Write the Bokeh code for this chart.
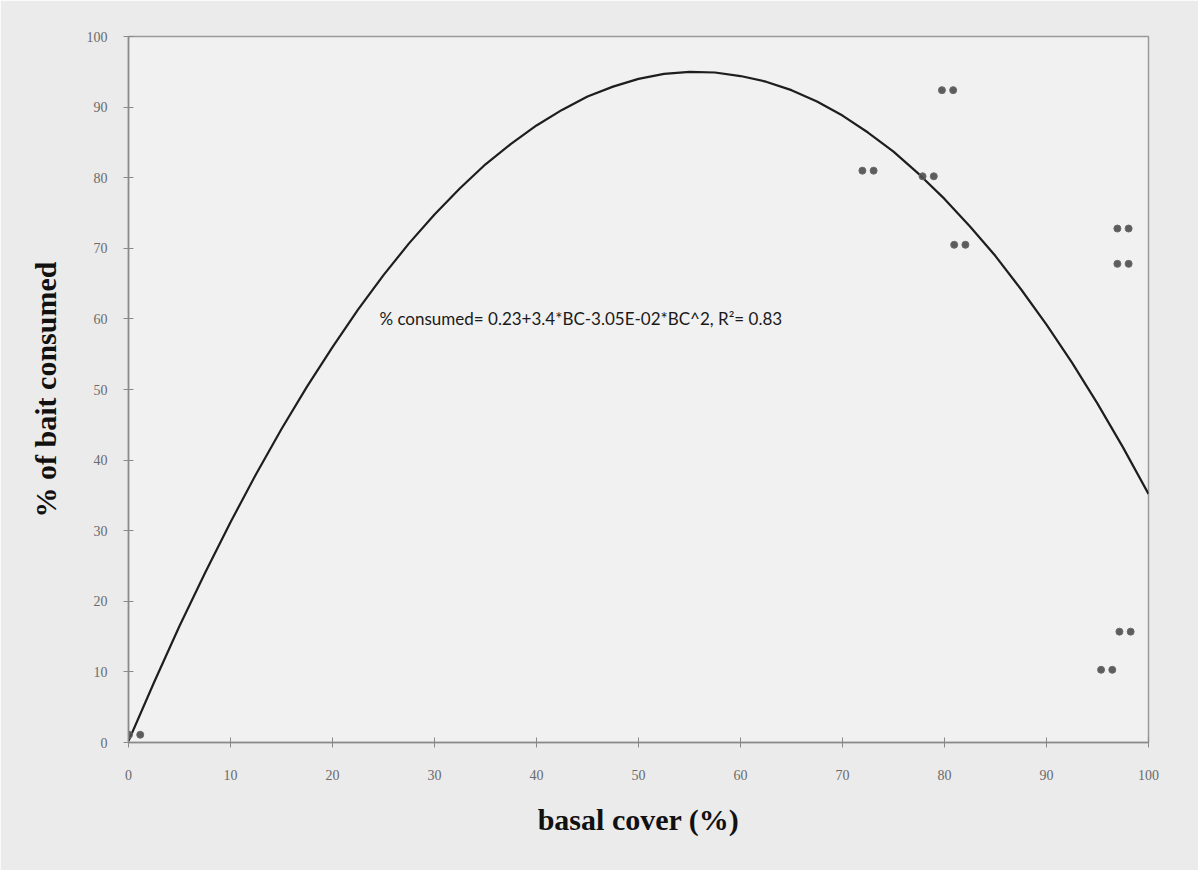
from bokeh.plotting import figure
from bokeh.models import Range1d, Label, FixedTicker, ColumnDataSource
from bokeh.transform import dodge
from bokeh.embed import file_html
from bokeh.resources import INLINE

# observed points (basal cover %, % of bait consumed)
basal_cover = [0.6, 72.5, 78.4, 80.3, 81.5, 97.5, 97.5, 97.7, 95.9]
bait_consumed = [1.1, 81.0, 80.2, 92.4, 70.5, 72.8, 67.8, 15.7, 10.3]

# fitted curve
fit_x = [0, 2.5, 5, 7.5, 10, 12.5, 15, 17.5, 20, 22.5, 25, 27.5, 30, 32.5, 35, 37.5, 40,
         42.5, 45, 47.5, 50, 52.5, 55, 57.5, 60, 62.5, 65, 67.5, 70, 72.5, 75, 77.5, 80,
         82.5, 85, 87.5, 90, 92.5, 95, 97.5, 100]
fit_y = [0.2, 8.5, 16.5, 24.0, 31.2, 38.0, 44.4, 50.4, 56.0, 61.3, 66.2, 70.7, 74.8, 78.5,
         81.9, 84.8, 87.4, 89.6, 91.5, 92.9, 94.0, 94.7, 95.0, 94.9, 94.4, 93.6, 92.4, 90.8,
         88.8, 86.4, 83.7, 80.5, 77.0, 73.1, 68.9, 64.2, 59.2, 53.8, 48.0, 41.8, 35.2]

x_ticks = [0, 10, 20, 30, 40, 50, 60, 70, 80, 90, 100]
y_ticks = [0, 10, 20, 30, 40, 50, 60, 70, 80, 90, 100]

equation_text = "% consumed= 0.23+3.4*BC-3.05E-02*BC^2, R\u00b2= 0.83"
x_title = "basal cover (%)"
y_title = "% of bait consumed"

p = figure(width=1198, height=870, x_range=Range1d(0, 100), y_range=Range1d(0, 100),
           output_backend="svg", toolbar_location=None,
           min_border_left=128, min_border_right=50, min_border_top=36, min_border_bottom=128)
p.background_fill_color = "#f1f1f1"
p.border_fill_color = "#ebebeb"
p.outline_line_color = "#9a9a9a"
p.outline_line_width = 1.5
p.grid.visible = False

for ax in (p.xaxis[0], p.yaxis[0]):
    ax.axis_line_color = "#8a8a8a"
    ax.axis_line_width = 1.5
    ax.major_tick_line_color = "#8a8a8a"
    ax.major_tick_in = 5
    ax.major_tick_out = 5
    ax.minor_tick_line_color = None
    ax.major_label_text_font = "Liberation Serif"
    ax.major_label_text_font_size = "14px"
    ax.major_label_text_color = "#6a6a6a"
    ax.axis_label_text_font = "Liberation Serif"
    ax.axis_label_text_font_style = "bold"
    ax.axis_label_text_font_size = "30px"
    ax.axis_label_text_color = "#111111"

p.xaxis.ticker = FixedTicker(ticks=x_ticks)
p.yaxis.ticker = FixedTicker(ticks=y_ticks)
p.xaxis.axis_label = x_title
p.yaxis.axis_label = y_title
p.xaxis.major_label_standoff = 22
p.yaxis.major_label_standoff = 16
p.xaxis.axis_label_standoff = 20
p.yaxis.axis_label_standoff = 22

p.line(fit_x, fit_y, line_color="#1e1e1e", line_width=2.2, line_join="round")

src = ColumnDataSource(dict(x=basal_cover, y=bait_consumed))
for off in (-0.55, 0.55):
    p.scatter(x=dodge("x", off), y="y", source=src, size=7, marker="circle",
              fill_color="#4d4d4d", line_color="#6a6a6a", fill_alpha=0.9)

p.add_layout(Label(x=24.6, y=60, text=equation_text, text_font="Lato",
                   text_font_size="17px", text_color="#1a1a1a", text_baseline="middle"))

open("out.html", "w").write(file_html(p, INLINE))
